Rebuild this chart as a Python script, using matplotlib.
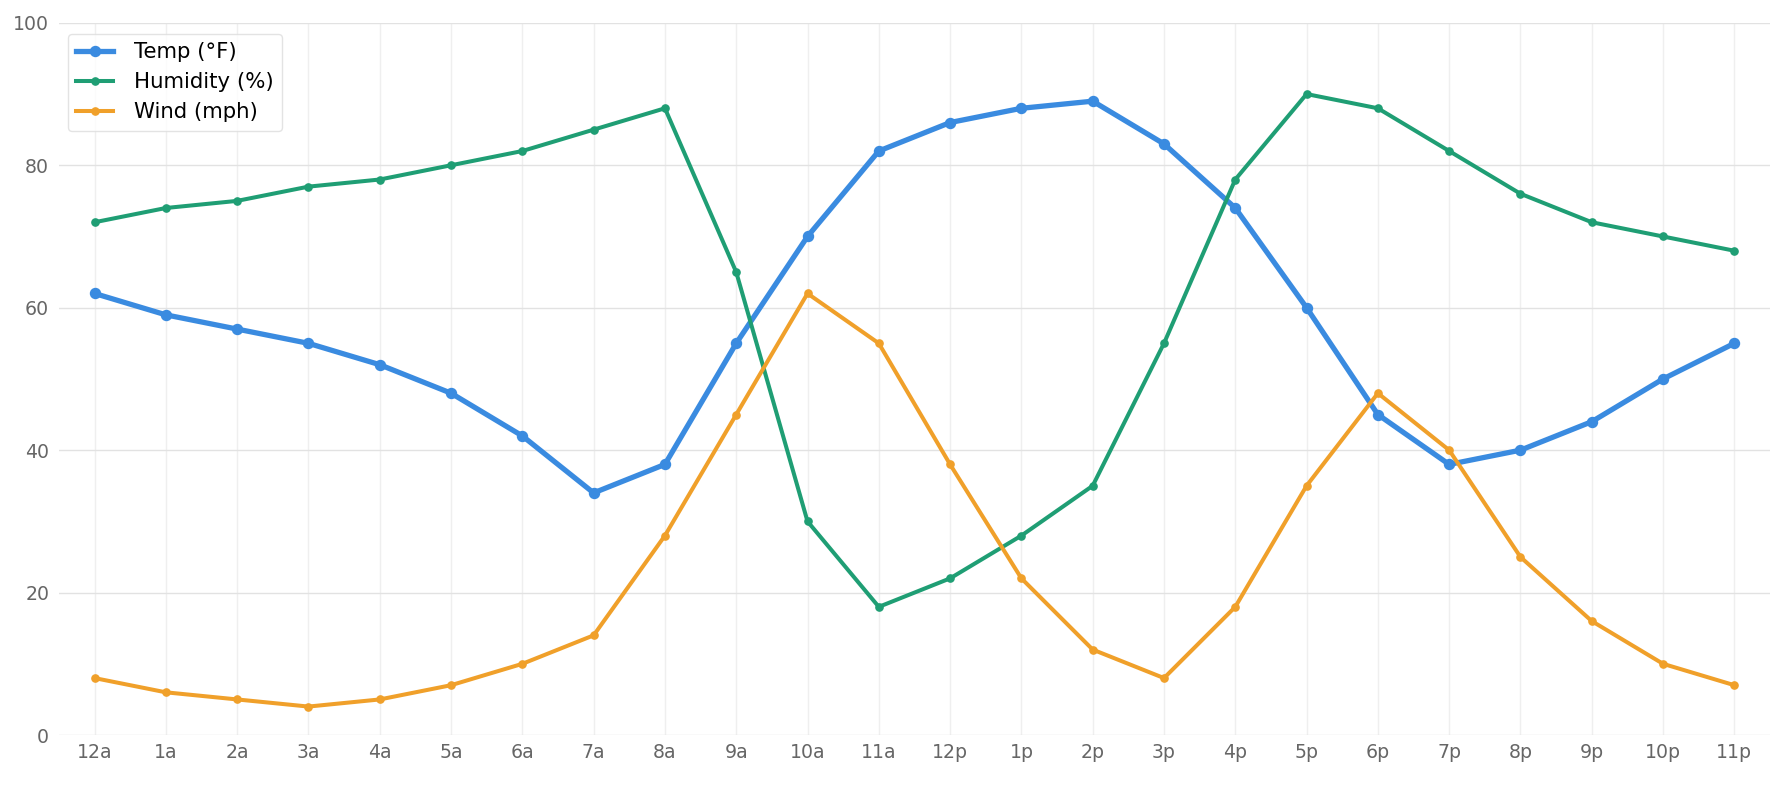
import matplotlib
matplotlib.use("Agg")
import matplotlib.pyplot as plt
import numpy as np

hours = ["12a", "1a", "2a", "3a", "4a", "5a", "6a", "7a", "8a", "9a", "10a", "11a",
         "12p", "1p", "2p", "3p", "4p", "5p", "6p", "7p", "8p", "9p", "10p", "11p"]
temp = [62, 59, 57, 55, 52, 48, 42, 34, 38, 55, 70, 82,
        86, 88, 89, 83, 74, 60, 45, 38, 40, 44, 50, 55]
humidity = [72, 74, 75, 77, 78, 80, 82, 85, 88, 65, 30, 18,
            22, 28, 35, 55, 78, 90, 88, 82, 76, 72, 70, 68]
wind = [8, 6, 5, 4, 5, 7, 10, 14, 28, 45, 62, 55,
        38, 22, 12, 8, 18, 35, 48, 40, 25, 16, 10, 7]

x = np.arange(len(hours))

fig = plt.figure(figsize=(17.85, 7.87), dpi=100)
ax = fig.add_axes([0.033, 0.066, 0.9586, 0.905])

ax.plot(x, temp, color="#3a8be0", linewidth=3.8, marker="o", markersize=7.2,
        label="Temp (°F)", zorder=3)
ax.plot(x, humidity, color="#1f9e74", linewidth=2.9, marker="o", markersize=5.2,
        label="Humidity (%)", zorder=3)
ax.plot(x, wind, color="#f0a02a", linewidth=2.9, marker="o", markersize=5.2,
        label="Wind (mph)", zorder=3)

ax.set_xlim(-0.5, 23.5)
ax.set_ylim(0, 100)
ax.set_xticks(x)
ax.set_xticklabels(hours)
ax.set_yticks([0, 20, 40, 60, 80, 100])
ax.tick_params(axis="both", length=0, labelsize=13.6, labelcolor="#666666")
ax.tick_params(axis="x", pad=6)
ax.tick_params(axis="y", pad=7)
ax.yaxis.grid(True, color="#e2e2e2", linewidth=1)
ax.xaxis.grid(True, color="#efefef", linewidth=1)
ax.set_axisbelow(True)
for spine in ax.spines.values():
    spine.set_visible(False)

leg = ax.legend(loc="upper left", fontsize=15.3, frameon=True, borderpad=0.4,
                borderaxespad=0, handlelength=1.7, handletextpad=1.0,
                labelspacing=0.48, bbox_to_anchor=(0.0053, 0.985))
leg.get_frame().set_edgecolor("#dddddd")
leg.get_frame().set_linewidth(1)

fig.savefig("out.png", dpi=100)
